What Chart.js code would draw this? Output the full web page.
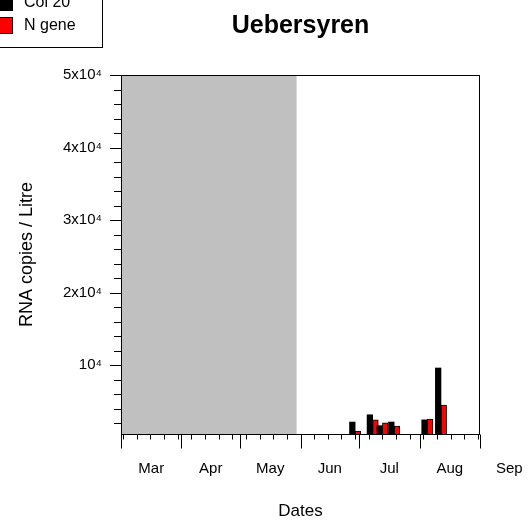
<!DOCTYPE html>
<html>
<head>
<meta charset="utf-8">
<script src="https://cdn.jsdelivr.net/npm/chart.js@4.4.1/dist/chart.umd.min.js"></script>
<style>
    body { margin: 0; background: #fff; }
    #wrap { width: 528px; height: 522px; }
</style>
</head>
<body>
<div id="wrap"><canvas id="samplesCanvas" width="528" height="522"></canvas></div>
<script>
// data (2020 samples)
let sampleDates = ["2020-06-29", "2020-07-08", "2020-07-13", "2020-07-19", "2020-08-05", "2020-08-12"];
let col20Values = [2150, 3150, 1650, 2150, 2450, 9600];
let nGeneValues = [900, 2450, 2050, 1600, 2550, 4500];

let monthStarts = ["2020-03-01", "2020-04-01", "2020-05-01", "2020-06-01", "2020-07-01", "2020-08-01", "2020-09-01", "2020-10-01"];
let monthLabels = ["Mar", "Apr", "May", "Jun", "Jul", "Aug", "Sep"];
let noDataPeriod = ["2020-03-01", "2020-05-30"];

let yTickValues = [10000, 20000, 30000, 40000, 50000];
let yTickLabels = ["10\u2074", "2x10\u2074", "3x10\u2074", "4x10\u2074", "5x10\u2074"];

let fontFamily = "'Liberation Sans', Arial, sans-serif";

function dayNumber(dateText) {
    let start = Date.UTC(2020, 2, 1);
    let p = dateText.split("-");
    return (Date.UTC(+p[0], +p[1] - 1, +p[2]) - start) / 86400000;
}

let xStart = dayNumber(monthStarts[0]);
let xEnd = dayNumber("2020-09-01");

let monthMiddles = [];
for (let i = 0; i < monthLabels.length; i++) {
    monthMiddles.push((dayNumber(monthStarts[i]) + dayNumber(monthStarts[i + 1])) / 2);
}

// weekly minor ticks on Mondays
let mondayTicks = [];
for (let d = dayNumber("2020-03-02"); d <= xEnd; d += 7) {
    mondayTicks.push(d);
}

let framePlugin = {
    id: "framePlugin",
    beforeDatasetsDraw(chart) {
        let ctx = chart.ctx;
        let area = chart.chartArea;
        let x = chart.scales.x;
        let x0 = x.getPixelForValue(dayNumber(noDataPeriod[0]));
        let x1 = x.getPixelForValue(dayNumber(noDataPeriod[1]));
        ctx.save();
        ctx.fillStyle = "#c0c0c0";
        ctx.fillRect(x0, area.top, x1 - x0, area.bottom - area.top);
        ctx.restore();
    },
    afterDraw(chart) {
        let ctx = chart.ctx;
        let area = chart.chartArea;
        let x = chart.scales.x;
        let y = chart.scales.y;
        ctx.save();
        ctx.strokeStyle = "#000";
        ctx.lineWidth = 1;
        ctx.strokeRect(Math.round(area.left) + 0.5, Math.round(area.top) + 0.5,
            Math.round(area.right - area.left) - 1, Math.round(area.bottom - area.top));

        ctx.beginPath();
        // y ticks, minor every 2000
        for (let v = 2000; v <= 50000; v += 2000) {
            let py = Math.round(y.getPixelForValue(v)) + 0.5;
            let len = yTickValues.includes(v) ? 11 : 7;
            ctx.moveTo(area.left, py);
            ctx.lineTo(area.left - len, py);
        }
        // x ticks
        let bottom = Math.round(area.bottom) + 0.5;
        mondayTicks.forEach(function (d) {
            let px = Math.round(x.getPixelForValue(d)) + 0.5;
            ctx.moveTo(px, bottom);
            ctx.lineTo(px, bottom + 5);
        });
        for (let i = 0; i < monthStarts.length; i++) {
            let d = dayNumber(monthStarts[i]);
            if (d > xEnd) continue;
            let px = Math.round(x.getPixelForValue(d)) + 0.5;
            ctx.moveTo(px, bottom);
            ctx.lineTo(px, bottom + 14);
        }
        ctx.stroke();

        // title
        ctx.fillStyle = "#000";
        ctx.font = "bold 25px " + fontFamily;
        ctx.textAlign = "center";
        ctx.textBaseline = "middle";
        ctx.fillText("Uebersyren", (area.left + area.right) / 2, 26);

        // legend box, cut at the top left
        ctx.strokeRect(-10, -10, 112.5, 57.5);
        ctx.font = "16px " + fontFamily;
        ctx.textAlign = "left";
        chart.data.datasets.forEach(function (ds, i) {
            let cy = 2.5 + i * 23;
            ctx.fillStyle = ds.backgroundColor;
            ctx.fillRect(-4, cy - 8.5, 17, 17);
            ctx.strokeRect(-4 + 0.5, cy - 8, 16, 16);
            ctx.fillStyle = "#000";
            ctx.fillText(ds.label, 24, cy);
        });
        ctx.restore();
    }
};

function samplesChart() {
    let samplesData = {
        datasets: [{
            label: "Col 20",
            data: sampleDates.map(function (d, i) { return { x: dayNumber(d), y: col20Values[i] }; }),
            backgroundColor: "#000000",
            borderColor: "#000000",
            borderWidth: 0,
            barThickness: 5.6
        }, {
            label: "N gene",
            data: sampleDates.map(function (d, i) { return { x: dayNumber(d), y: nGeneValues[i] }; }),
            backgroundColor: "#ff0000",
            borderColor: "#000000",
            borderWidth: 1,
            barThickness: 5.6
        }]
    };

    let samplesOptions = {
        responsive: false,
        animation: false,
        layout: {
            padding: { top: 75, right: 48, bottom: 0, left: 0 }
        },
        scales: {
            x: {
                type: "linear",
                min: xStart,
                max: xEnd,
                offset: false,
                grid: { display: false, drawTicks: false },
                border: { display: false },
                afterBuildTicks: function (scale) {
                    scale.ticks = monthMiddles.map(function (v) { return { value: v }; });
                },
                afterFit: function (scale) {
                    scale.height = 88;
                    scale.paddingLeft = 0;
                    scale.paddingRight = 0;
                },
                ticks: {
                    autoSkip: false,
                    maxRotation: 0,
                    padding: 26,
                    color: "#000",
                    font: { family: fontFamily, size: 15 },
                    callback: function (value, index) { return monthLabels[index]; }
                },
                title: {
                    display: true,
                    text: "Dates",
                    color: "#000",
                    font: { family: fontFamily, size: 17 },
                    padding: { top: 0, bottom: 0 }
                }
            },
            y: {
                min: 500,
                max: 50000,
                grid: { display: false, drawTicks: false },
                border: { display: false },
                afterBuildTicks: function (scale) {
                    scale.ticks = yTickValues.map(function (v) { return { value: v }; });
                },
                afterFit: function (scale) {
                    scale.width = 121;
                    scale.paddingTop = 0;
                    scale.paddingBottom = 0;
                },
                ticks: {
                    padding: 19,
                    color: "#000",
                    font: { family: fontFamily, size: 15 },
                    callback: function (value, index) { return yTickLabels[index]; }
                },
                title: {
                    display: true,
                    text: "RNA copies / Litre",
                    color: "#000",
                    font: { family: fontFamily, size: 18 },
                    padding: { top: 16, bottom: 0 }
                }
            }
        },
        plugins: {
            legend: { display: false },
            tooltip: { enabled: false }
        }
    };

    let chart = new Chart(document.getElementById("samplesCanvas"), {
        type: "bar",
        data: samplesData,
        options: samplesOptions,
        plugins: [framePlugin]
    });

    return chart;
}

samplesChart();
</script>
</body>
</html>
